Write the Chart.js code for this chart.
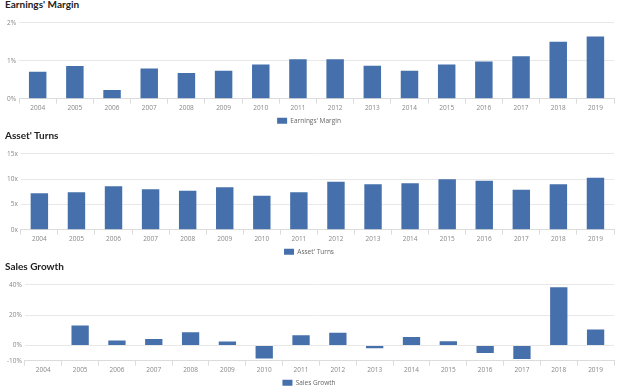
<!doctype html>
<html>
<head>
	<title>Margin, Turns and Growth</title>
	<script src="https://cdn.jsdelivr.net/npm/chart.js@4.4.1/dist/chart.umd.min.js"></script>
	<style>
		html, body { margin: 0; padding: 0; background: #fff; }
		body { width: 624px; height: 387px; position: relative; overflow: hidden; }
		.panel { position: absolute; left: 0; width: 624px; height: 130px; }
		.panel h3 {
			position: absolute; left: 5px; top: 4px; margin: 0;
			font: bold 10px Lato, sans-serif; color: #222;
		}
		.panel .box { position: absolute; left: 0; top: 22px; width: 624px; height: 118px; }
	</style>
</head>
<body>
	<div class="panel" id="p1" style="top:-6px"><h3>Earnings' Margin</h3><div class="box"><canvas id="c1"></canvas></div></div>
	<div class="panel" id="p2" style="top:125px"><h3>Asset' Turns</h3><div class="box"><canvas id="c2"></canvas></div></div>
	<div class="panel" id="p3" style="top:256px"><h3>Sales Growth</h3><div class="box"><canvas id="c3"></canvas></div></div>
	<script>
		var years = ['2004', '2005', '2006', '2007', '2008', '2009', '2010', '2011', '2012', '2013', '2014', '2015', '2016', '2017', '2018', '2019'];
		var earningsMargin = [0.71, 0.86, 0.23, 0.80, 0.68, 0.74, 0.90, 1.04, 1.04, 0.87, 0.74, 0.90, 0.98, 1.12, 1.50, 1.64];
		var assetTurns = [7.2, 7.4, 8.6, 8.0, 7.7, 8.4, 6.7, 7.4, 9.5, 9.0, 9.2, 10.0, 9.7, 7.9, 9.0, 10.3];
		var salesGrowth = [0, 13.2, 3.4, 4.3, 8.8, 2.7, -8.6, 6.8, 8.5, -1.8, 5.6, 2.9, -5.0, -8.8, 38.5, 10.5];
		var marginTicks = [0, 1, 2];
		var turnsTicks = [0, 5, 10, 15];
		var growthTicks = [-10, 0, 20, 40];

		var blue = '#4670ab';
		var tickFont = { family: 'Open Sans', size: 6.5 };

		function makeChart(id, label, data, ticks, suffix) {
			new Chart(document.getElementById(id), {
				type: 'bar',
				data: {
					labels: years,
					datasets: [{
						label: label,
						data: data,
						backgroundColor: blue,
						borderWidth: 0,
						barPercentage: 0.47,
						categoryPercentage: 1
					}]
				},
				options: {
					responsive: true,
					maintainAspectRatio: false,
					animation: false,
					layout: { padding: { top: 3, right: 10, left: 4, bottom: 0 } },
					plugins: {
						tooltip: { enabled: false },
						legend: {
							position: 'bottom',
							labels: {
								boxWidth: 10, boxHeight: 6, padding: 4,
								color: '#666', font: tickFont
							}
						}
					},
					scales: {
						x: {
							offset: true,
							grid: { offset: true, drawOnChartArea: false, tickLength: 5, color: '#dcdcdc' },
							border: { color: '#dcdcdc' },
							ticks: { color: '#888', font: tickFont, padding: 1, maxRotation: 0 }
						},
						y: {
							min: ticks[0],
							max: ticks[ticks.length - 1],
							afterBuildTicks: function(axis) {
								axis.ticks = ticks.map(function(v) { return { value: v }; });
							},
							grid: { drawTicks: false, color: '#e8e8e8' },
							border: { display: false },
							ticks: {
								color: '#888', font: tickFont, padding: 3,
								callback: function(v) { return v + suffix; }
							}
						}
					}
				}
			});
		}

		makeChart('c1', "Earnings' Margin", earningsMargin, marginTicks, '%');
		makeChart('c2', "Asset' Turns", assetTurns, turnsTicks, 'x');
		makeChart('c3', 'Sales Growth', salesGrowth, growthTicks, '%');
	</script>
</body>
</html>
